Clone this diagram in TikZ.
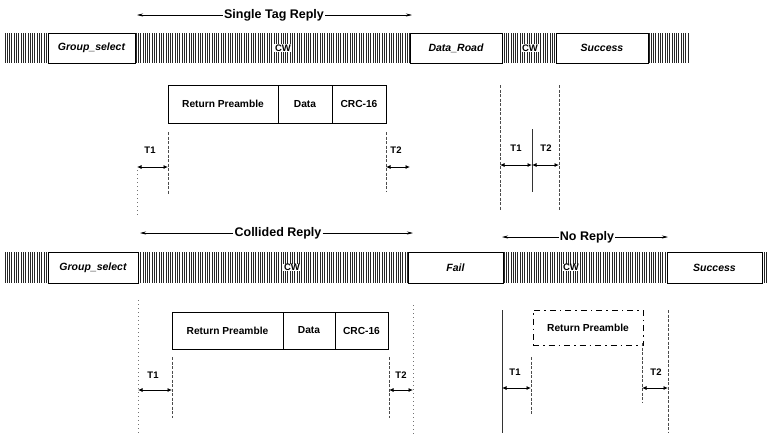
\documentclass[tikz,border=0pt]{standalone}
\usepackage{fontspec}
\setmainfont{Liberation Sans}
\usetikzlibrary{arrows.meta}
\tikzset{
  hatch/.style={line width=1.0pt,black!85},
  fbox/.style={draw,line width=0.9pt,fill=white,inner sep=0pt,font=\bfseries\itshape\fontsize{10.5}{12}\selectfont},
  cell/.style={draw,line width=0.9pt,fill=white,inner sep=0pt,font=\bfseries\fontsize{10.2}{11}\selectfont},
  dcell/.style={draw,line width=0.9pt,dash pattern=on 6pt off 4pt on 1.5pt off 4pt,inner sep=0pt,font=\bfseries\fontsize{10.2}{11}\selectfont},
  cwlab/.style={fill=white,inner sep=0.6pt,font=\bfseries\fontsize{9.5}{11}\selectfont},
  title/.style={inner sep=1pt,font=\bfseries\fontsize{12.5}{14}\selectfont},
  tlab/.style={inner sep=0pt,font=\bfseries\fontsize{9.5}{10}\selectfont},
  span/.style={-{Stealth[length=6pt,width=3pt]},line width=0.6pt},
  tarrow/.style={{Latex[length=4.5pt,width=4pt]}-{Latex[length=4.5pt,width=4pt]},line width=0.8pt},
  vsolid/.style={line width=0.7pt,black!80},
  vdash/.style={line width=0.6pt,black!70,dash pattern=on 3pt off 1.5pt},
  vdot/.style={line width=0.6pt,black!55,dash pattern=on 1pt off 3pt}
}
\begin{document}
\begin{tikzpicture}[x=1pt,y=-1pt]
\path[use as bounding box] (0,0) rectangle (769,434);

% ---------- top half ----------
\foreach \x in {5,7.3,...,690} \draw[hatch] (\x,33) -- (\x,63);
\node[fbox,minimum width=87pt,minimum height=30pt] (gs1) at (91.5,48) {Group\_select};
\node[fbox,minimum width=92pt,minimum height=30pt] (dr1) at (456,48) {Data\_Road};
\node[fbox,minimum width=92pt,minimum height=30pt] (su1) at (602,48) {Success};
\node[cwlab] (cw1a) at (283,48) {CW};
\node[cwlab] (cw1b) at (530,48) {CW};

\node[title] (st) at (274,15) {Single Tag Reply};
\coordinate (st1) at (137,15);
\coordinate (st2) at (412,15);
\draw[span] (st.west) -- (st1);
\draw[span] (st.east) -- (st2);

\node[cell,minimum width=110pt,minimum height=38pt] (rp1) at (223,104) {Return Preamble};
\node[cell,minimum width=54pt,minimum height=38pt] (da1) at (305,104) {Data};
\node[cell,minimum width=54pt,minimum height=38pt] (cr1) at (359,104) {CRC-16};

% vertical guide lines top
\coordinate (a1) at (137,170); \coordinate (a2) at (137,215);
\coordinate (b1) at (168,132); \coordinate (b2) at (168,195);
\coordinate (c1) at (386,132); \coordinate (c2) at (386,192);
\coordinate (d1) at (500,85);  \coordinate (d2) at (500,210);
\coordinate (e1) at (532,129); \coordinate (e2) at (532,192);
\coordinate (f1) at (559,85);  \coordinate (f2) at (559,210);
\draw[vdot] (a1) -- (a2);
\draw[vdash] (b1) -- (b2);
\draw[vdash] (c1) -- (c2);
\draw[vdash] (d1) -- (d2);
\draw[vsolid] (e1) -- (e2);
\draw[vdash] (f1) -- (f2);

\coordinate (ta1) at (137,167); \coordinate (ta2) at (168,167);
\coordinate (ta3) at (386,167); \coordinate (ta4) at (410,167);
\coordinate (tb1) at (500,165); \coordinate (tb2) at (532,165);
\coordinate (tb3) at (559,165);
\draw[tarrow] (ta1) -- (ta2);
\draw[tarrow] (ta3) -- (ta4);
\draw[tarrow] (tb1) -- (tb2);
\draw[tarrow] (tb2) -- (tb3);
\node[tlab] (l1) at (150,150) {T1};
\node[tlab] (l2) at (396,150) {T2};
\node[tlab] (l3) at (516,148) {T1};
\node[tlab] (l4) at (546,148) {T2};

% ---------- bottom half ----------
\foreach \x in {5,7.3,...,767} \draw[hatch] (\x,252) -- (\x,283);
\node[fbox,minimum width=90pt,minimum height=31pt] (gs2) at (93,267.5) {Group\_select};
\node[fbox,minimum width=95pt,minimum height=31pt] (fa2) at (455.5,267.5) {Fail};
\node[fbox,minimum width=95pt,minimum height=31pt] (su2) at (714.5,267.5) {Success};
\node[cwlab] (cw2a) at (292,267.5) {CW};
\node[cwlab] (cw2b) at (571,267.5) {CW};

\node[title] (cr) at (278,233) {Collided Reply};
\coordinate (cr1p) at (140,233);
\coordinate (cr2p) at (413,233);
\draw[span] (cr.west) -- (cr1p);
\draw[span] (cr.east) -- (cr2p);

\node[title] (nr) at (587,237) {No Reply};
\coordinate (nr1) at (502,237);
\coordinate (nr2) at (668,237);
\draw[span] (nr.west) -- (nr1);
\draw[span] (nr.east) -- (nr2);

\node[cell,minimum width=111pt,minimum height=37pt] (rp2) at (227.5,330.5) {Return Preamble};
\node[cell,minimum width=52pt,minimum height=37pt] (da2) at (309,330.5) {Data};
\node[cell,minimum width=53pt,minimum height=37pt] (cr2) at (361.5,330.5) {CRC-16};
\node[dcell,minimum width=110pt,minimum height=35pt] (rp3) at (588,327.5) {Return Preamble};

% vertical guide lines bottom
\coordinate (g1) at (138,300); \coordinate (g2) at (138,434);
\coordinate (h1) at (172,357); \coordinate (h2) at (172,418);
\coordinate (i1) at (389,357); \coordinate (i2) at (389,418);
\coordinate (j1) at (413,305); \coordinate (j2) at (413,434);
\coordinate (k1) at (502,310); \coordinate (k2) at (502,433);
\coordinate (m1) at (531,357); \coordinate (m2) at (531,415);
\coordinate (n1) at (642,343); \coordinate (n2) at (642,403);
\coordinate (o1) at (668,310); \coordinate (o2) at (668,433);
\draw[vdot] (g1) -- (g2);
\draw[vdash] (h1) -- (h2);
\draw[vdash] (i1) -- (i2);
\draw[vdot] (j1) -- (j2);
\draw[vsolid] (k1) -- (k2);
\draw[vdash] (m1) -- (m2);
\draw[vdash] (n1) -- (n2);
\draw[vdash] (o1) -- (o2);

\coordinate (tc1) at (138,390); \coordinate (tc2) at (172,390);
\coordinate (tc3) at (389,390); \coordinate (tc4) at (413,390);
\coordinate (td1) at (502,388); \coordinate (td2) at (531,388);
\coordinate (td3) at (642,388); \coordinate (td4) at (668,388);
\draw[tarrow] (tc1) -- (tc2);
\draw[tarrow] (tc3) -- (tc4);
\draw[tarrow] (td1) -- (td2);
\draw[tarrow] (td3) -- (td4);
\node[tlab] (l5) at (153,375) {T1};
\node[tlab] (l6) at (401,375) {T2};
\node[tlab] (l7) at (515,372) {T1};
\node[tlab] (l8) at (656,372) {T2};
\end{tikzpicture}
\end{document}
